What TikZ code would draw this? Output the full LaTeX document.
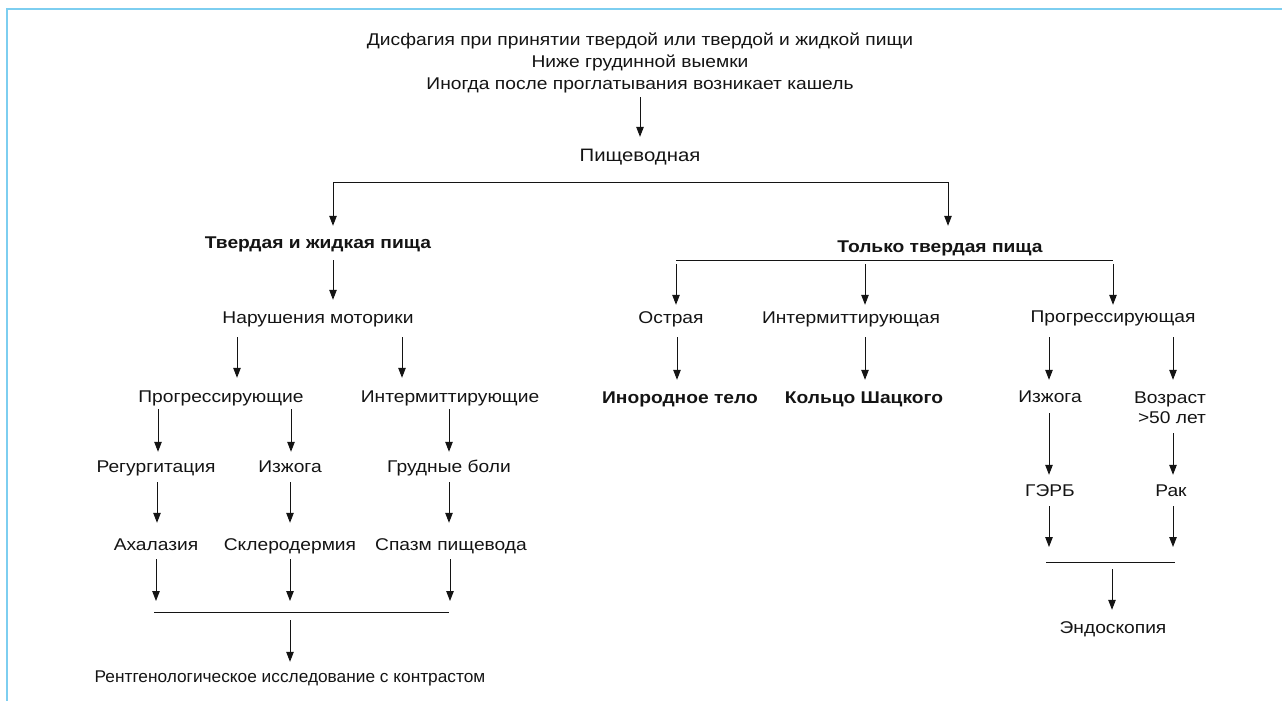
\documentclass[tikz,border=0pt]{standalone}
\usepackage{graphicx}
\usepackage{fontspec}
\setmainfont{Liberation Sans}[FakeStretch=1.13]
\usetikzlibrary{arrows.meta}
\definecolor{frameblue}{RGB}{125,206,240}
\definecolor{ink}{RGB}{20,20,20}
\begin{document}
\begin{tikzpicture}[x=1pt,y=-1pt,
  lbl/.style={font=\fontsize{17}{20}\selectfont, text=ink, inner sep=0pt, text height=11.5pt, text depth=0pt, anchor=center},
  big/.style={lbl, font=\fontsize{18}{21}\selectfont, text height=12.9pt},
  bl/.style={lbl, font=\fontsize{17}{20}\selectfont\bfseries},
  arr/.style={draw=ink, -{Triangle[length=10pt,width=7.5pt]}, line width=1pt},
  bar/.style={draw=ink, line width=1pt}]
\useasboundingbox (0,0) rectangle (1282,701);
\draw[frameblue, line width=2pt] (7,701) -- (7,9) -- (1282,9);

% header
\node[lbl] (h1) at (640,40) {Дисфагия при принятии твердой или твердой и жидкой пищи};
\node[lbl] (h2) at (640,62) {Ниже грудинной выемки};
\node[lbl] (h3) at (640,84) {Иногда после проглатывания возникает кашель};
\node[big] (pq) at (640,155) {Пищеводная};
\draw[arr, shorten <=7.25pt, shorten >=11.5pt] (h3.south) -- (pq.north);

% first split
\coordinate (b1L) at (333,182);
\coordinate (b1R) at (948,182);
\draw[bar] (b1L) -- (b1R);
\node[bl] (twj) at (318,243) {Твердая и жидкая пища};
\node[bl] (tt) at (940,247) {Только твердая пища};
\draw[arr, shorten >=11.25pt] (b1L) -- (b1L |- twj.north);
\draw[arr, shorten >=15.25pt] (b1R) -- (b1R |- tt.north);

% left branch
\node[lbl] (nm) at (318,318) {Нарушения моторики};
\draw[arr, shorten <=11.25pt, shorten >=12.25pt] (twj.south -| 333,0) -- (nm.north -| 333,0);
\node[lbl] (pr) at (221,397) {Прогрессирующие};
\node[lbl] (im) at (450,397) {Интермиттирующие};
\draw[arr, shorten <=13.25pt, shorten >=13.25pt] (nm.south -| 237,0) -- (pr.north -| 237,0);
\draw[arr, shorten <=13.25pt, shorten >=13.25pt] (nm.south -| 402,0) -- (im.north -| 402,0);

\node[lbl] (rg) at (156,467) {Регургитация};
\node[lbl] (iz) at (290,467) {Изжога};
\node[lbl] (gb) at (449,467) {Грудные боли};
\draw[arr, shorten <=6.25pt, shorten >=9.25pt] (pr.south -| 158,0) -- (rg.north -| 158,0);
\draw[arr, shorten <=6.25pt, shorten >=9.25pt] (pr.south -| 291,0) -- (iz.north -| 291,0);
\draw[arr, shorten <=6.25pt, shorten >=9.25pt] (im.south -| 449,0) -- (gb.north -| 449,0);

\node[lbl] (ah) at (156,545) {Ахалазия};
\node[lbl] (sk) at (290,545) {Склеродермия};
\node[lbl] (sp) at (451,545) {Спазм пищевода};
\draw[arr, shorten <=9.25pt, shorten >=16.25pt] (rg.south -| 157,0) -- (ah.north -| 157,0);
\draw[arr, shorten <=9.25pt, shorten >=16.25pt] (iz.south -| 290,0) -- (sk.north -| 290,0);
\draw[arr, shorten <=9.25pt, shorten >=16.25pt] (gb.south -| 449,0) -- (sp.north -| 449,0);

\coordinate (jL) at (154,612);
\coordinate (jR) at (449,612);
\coordinate (jM) at (290,612);
\draw[bar] (jL) -- (jR);
\draw[arr, shorten <=8.25pt, shorten >=11pt] (ah.south -| 156,0) -- (jL -| 156,0);
\draw[arr, shorten <=8.25pt, shorten >=11pt] (sk.south -| 290,0) -- (jM);
\draw[arr, shorten <=8.25pt, shorten >=11pt] (sp.south -| 450,0) -- (jR -| 450,0);
\node[lbl] (rt) at (290,677) {\scalebox{0.9}[1]{Рентгенологическое исследование с контрастом}};
\draw[arr, shorten <=8pt, shorten >=9.25pt] (jM) -- (rt.north);

% right branch
\coordinate (kL) at (676,260);
\coordinate (kM) at (865,260);
\coordinate (kR) at (1113,260);
\draw[bar] (kL) -- (kR);
\node[lbl] (os) at (671,318) {Острая};
\node[lbl] (ia) at (851,318) {Интермиттирующая};
\node[lbl] (pg) at (1113,317) {Прогрессирующая};
\draw[arr, shorten <=4pt, shorten >=7.25pt] (kL) -- (kL |- os.north);
\draw[arr, shorten <=4pt, shorten >=7.25pt] (kM) -- (kM |- ia.north);
\draw[arr, shorten <=4pt, shorten >=6.25pt] (kR) -- (kR |- pg.north);

\node[bl] (in) at (680,398) {Инородное тело};
\node[bl] (ks) at (864,398) {Кольцо Шацкого};
\node[lbl] (iz2) at (1050,397) {Изжога};
\node[lbl] (vz1) at (1170,398) {Возраст};
\node[lbl] (vz2) at (1172,418) {>50 лет};
\draw[arr, shorten <=13.25pt, shorten >=12.25pt] (os.south -| 677,0) -- (in.north -| 677,0);
\draw[arr, shorten <=13.25pt, shorten >=12.25pt] (ia.south -| 865,0) -- (ks.north -| 865,0);
\draw[arr, shorten <=14.25pt, shorten >=11.25pt] (pg.south -| 1049,0) -- (iz2.north -| 1049,0);
\draw[arr, shorten <=14.25pt, shorten >=12.25pt] (pg.south -| 1173,0) -- (vz1.north -| 1173,0);

\node[lbl] (gr) at (1050,491) {ГЭРБ};
\node[lbl] (rk) at (1171,491) {Рак};
\draw[arr, shorten <=10.25pt, shorten >=10.25pt] (iz2.south -| 1049,0) -- (gr.north -| 1049,0);
\draw[arr, shorten <=9.25pt, shorten >=10.25pt] (vz2.south -| 1173,0) -- (rk.north -| 1173,0);

\coordinate (mL) at (1046,562);
\coordinate (mR) at (1175,562);
\coordinate (mM) at (1112,562);
\draw[bar] (mL) -- (mR);
\draw[arr, shorten <=9.25pt, shorten >=15pt] (gr.south -| 1049,0) -- (mL -| 1049,0);
\draw[arr, shorten <=9.25pt, shorten >=15pt] (rk.south -| 1173,0) -- (mR -| 1173,0);
\node[lbl] (en) at (1113,628) {Эндоскопия};
\draw[arr, shorten <=7pt, shorten >=12.25pt] (mM) -- (en.north -| mM);
\end{tikzpicture}
\end{document}
